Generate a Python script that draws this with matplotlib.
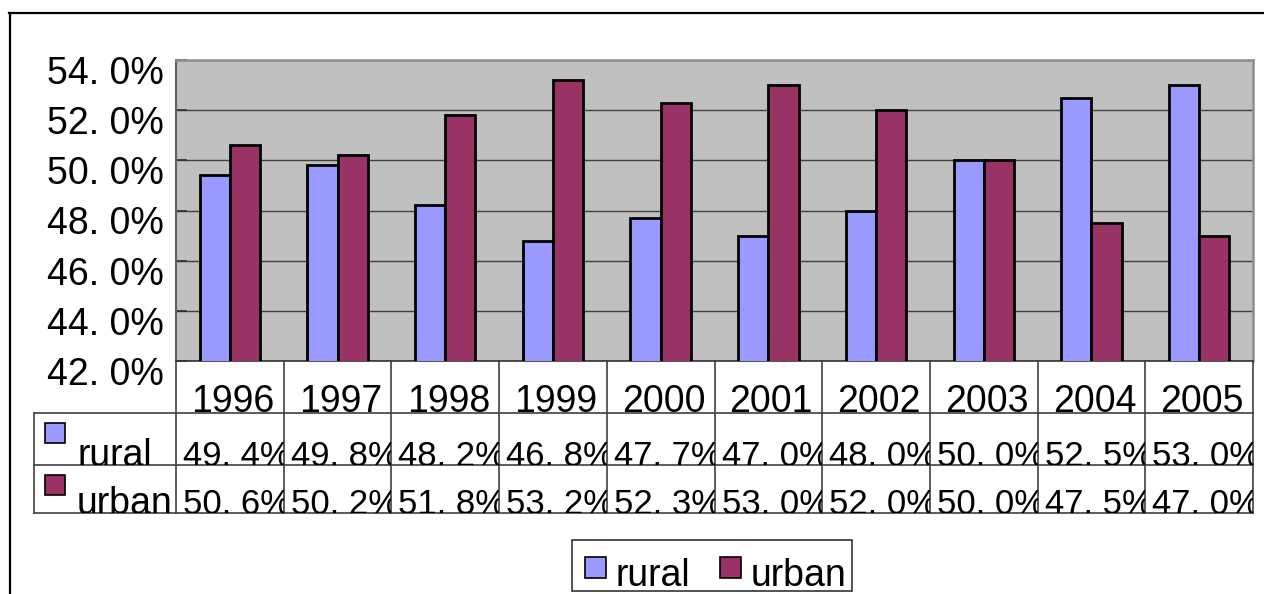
import matplotlib
matplotlib.use("Agg")
import matplotlib.pyplot as plt
import matplotlib.patches as patches
import matplotlib.transforms as mtransforms

years = ["1996", "1997", "1998", "1999", "2000", "2001", "2002", "2003", "2004", "2005"]
rural = [49.4, 49.8, 48.2, 46.8, 47.7, 47.0, 48.0, 50.0, 52.5, 53.0]
urban = [50.6, 50.2, 51.8, 53.2, 52.3, 53.0, 52.0, 50.0, 47.5, 47.0]
series_names = ["rural", "urban"]
yticks = [42, 44, 46, 48, 50, 52, 54]

RURAL_C = "#9999FF"
URBAN_C = "#993366"
BG = "#C0C0C0"
FONT = ["Liberation Sans", "DejaVu Sans"]
FS = 27
FS_CELL = 25

W, H = 1264, 594
fig = plt.figure(figsize=(W / 100, H / 100), dpi=100)
fig.patch.set_facecolor("white")


def fx(px):
    return px / W


def fy(py):
    return 1 - py / H


def pct(v):
    # Excel-ish "49. 4%" look
    return ("%.1f%%" % v).replace(".", ". ")


# plot area in pixel terms
PL, PR, PT, PB = 176, 1253, 60, 361
ax = fig.add_axes([fx(PL), fy(PB), fx(PR - PL), (PB - PT) / H])
ax.set_facecolor(BG)

n = len(years)
xs = list(range(n))
bw = 0.28
ax.bar([x - bw / 2 for x in xs], rural, bw, color=RURAL_C, edgecolor="black", linewidth=2, zorder=3)
ax.bar([x + bw / 2 for x in xs], urban, bw, color=URBAN_C, edgecolor="black", linewidth=2, zorder=3)
ax.set_xlim(-0.5, n - 0.5)
ax.set_ylim(42, 54)
ax.set_yticks(yticks)
ax.set_yticklabels([pct(v) for v in yticks], fontfamily=FONT, fontsize=FS)
ax.yaxis.grid(True, color="#404040", linewidth=1.0, zorder=1)
ax.set_axisbelow(True)
ax.set_xticks([])
ax.tick_params(axis="y", direction="in", length=8, width=1.2, pad=9, color="#303030")
off = mtransforms.ScaledTranslation(0, -10 / 100, fig.dpi_scale_trans)
for lab in ax.get_yticklabels():
    lab.set_transform(lab.get_transform() + off)
for s in ["top", "right"]:
    ax.spines[s].set_color("#909090")
    ax.spines[s].set_linewidth(1.8)
ax.spines["left"].set_color("#606060")
ax.spines["left"].set_linewidth(1.5)
ax.spines["bottom"].set_color("#333333")
ax.spines["bottom"].set_linewidth(1.2)

# overlay in pixel coordinates for the data table, legend and border
ov = fig.add_axes([0, 0, 1, 1], zorder=5)
ov.set_xlim(0, W)
ov.set_ylim(H, 0)
ov.axis("off")
ov.patch.set_alpha(0)

# chart border
ov.plot([10, 10], [13, H], color="black", lw=1.6)
ov.plot([9, W], [13, 13], color="black", lw=1.6)

colw = (PR - PL) / n
row_year = (PB, 413)
row_r = (413, 465)
row_u = (465, 513)
TLEFT = 34
lc = "#404040"

# table grid
ov.plot([TLEFT, PR], [row_year[1]] * 2, color=lc, lw=1.2)
ov.plot([TLEFT, PR], [row_r[1]] * 2, color=lc, lw=1.2)
ov.plot([TLEFT, PR], [row_u[1]] * 2, color=lc, lw=1.2)
ov.plot([TLEFT, TLEFT], [row_r[0], row_u[1]], color=lc, lw=1.2)
for i in range(n + 1):
    xx = PL + i * colw
    ov.plot([xx, xx], [PB, row_u[1]], color=lc, lw=1.2)

for i, yr in enumerate(years):
    cx = PL + (i + 0.5) * colw
    ov.text(cx + 3, row_year[1] - 1, yr, ha="center", va="baseline",
            fontfamily=FONT, fontsize=FS)


def cell_text(x0, x1, y0, y1, s, pad=9, size=FS_CELL):
    t = ov.text(x0 + pad, y1 + 1, s, ha="left", va="baseline",
                fontfamily=FONT, fontsize=size)
    clip = patches.Rectangle((x0, y0), x1 - x0, y1 - y0, transform=ov.transData)
    t.set_clip_path(clip)
    t.set_clip_on(True)
    return t


for row, vals in ((row_r, rural), (row_u, urban)):
    for i, v in enumerate(vals):
        x0 = PL + i * colw
        cell_text(x0, x0 + colw, row[0], row[1], pct(v), pad=7)

# row headers with swatches
for row, name, col in ((row_r, series_names[0], RURAL_C), (row_u, series_names[1], URBAN_C)):
    ov.add_patch(patches.Rectangle((45, row[0] + 10), 20, 20, facecolor=col, edgecolor="black", lw=1.2))
    cell_text(TLEFT, PL, row[0], row[1], name, pad=43, size=FS)

# legend
ov.add_patch(patches.Rectangle((572, 540), 280, 51, facecolor="white", edgecolor="#333333", lw=1.2))
for x0, name, col in ((585, series_names[0], RURAL_C), (720, series_names[1], URBAN_C)):
    ov.add_patch(patches.Rectangle((x0, 557), 21, 21, facecolor=col, edgecolor="black", lw=1.2))
    ov.text(x0 + 31, 586, name, ha="left", va="baseline", fontfamily=FONT, fontsize=FS)

fig.savefig("out.png", dpi=100)
